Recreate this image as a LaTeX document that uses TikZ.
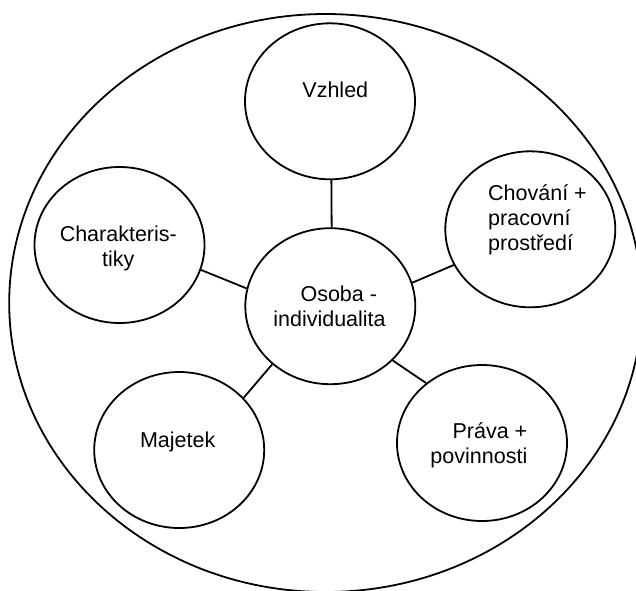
\documentclass[tikz,border=0pt]{standalone}
\usepackage{fontspec}
\setmainfont{Liberation Sans}
\usetikzlibrary{shapes.geometric}
\begin{document}
\begin{tikzpicture}[x=1pt,y=-1pt,
  bub/.style={draw=black,line width=1.8pt,ellipse,minimum width=170pt,minimum height=156pt,inner sep=0pt},
  lbl/.style={font=\fontsize{21.5}{25}\selectfont,inner sep=0pt,text=black},
  link/.style={draw=black,line width=1.8pt}]
\clip (0,0) rectangle (636,590);
\fill[white] (0,0) rectangle (636,590);
\node[draw=black,line width=1.8pt,ellipse,minimum width=632.8pt,minimum height=578pt,inner sep=0pt] (outer) at (325.6,303) {};
\node[bub] (vz) at (330,101.3) {};
\node[bub] (ch) at (119.5,245) {};
\node[bub] (cv) at (530.3,229.3) {};
\node[bub] (os) at (330.3,306.2) {};
\node[bub] (mj) at (179.2,450) {};
\node[bub] (pr) at (482,443) {};
\node[lbl,anchor=base] (tvz) at (335.3,97.3) {Vzhled};
\node[lbl,anchor=base,align=center] (tch) at (118.3,266.7) {Charakteris-\\tiky};
\node[lbl,anchor=base west,align=left] (tcv) at (488,250.7) {Chování +\\pracovní\\prostředí};
\node[lbl,anchor=base,align=center] (tos) at (329.5,326.7) {\hspace*{18.6pt}Osoba -\\individualita};
\node[lbl,anchor=base] (tmj) at (177.7,447.7) {Majetek};
\node[lbl,anchor=base east,align=right] (tpr) at (527.5,463.3) {Práva +\\povinnosti};
\draw[link] (vz.-89) -- (os.89);
\draw[link] (ch.-17) -- (os.168);
\draw[link] (cv.205) -- (os.16);
\draw[link] (mj.39) -- (os.225);
\draw[link] (pr.133.5) -- (os.-41.5);
\end{tikzpicture}
\end{document}
